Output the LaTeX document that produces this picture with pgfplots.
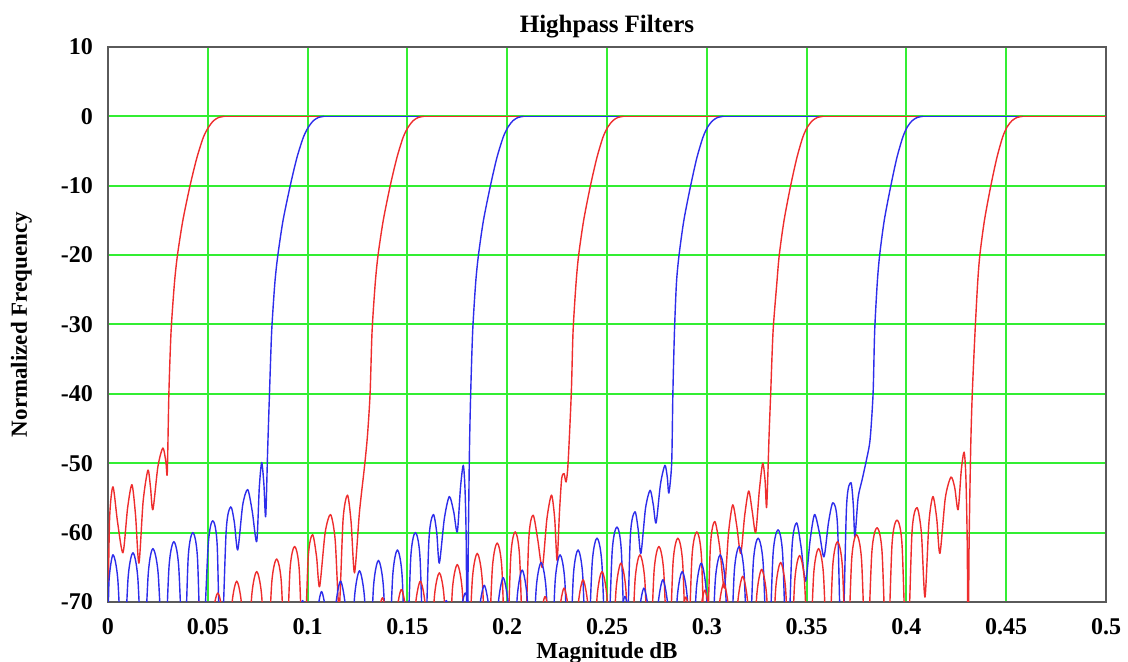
\documentclass[border=0pt]{standalone}
\usepackage{pgfplots}
\pgfplotsset{compat=1.18}
\usepackage{fontspec}
\setmainfont{Liberation Serif}
\definecolor{gridgreen}{RGB}{50,238,50}
\definecolor{framegray}{RGB}{90,90,90}
\definecolor{cred}{RGB}{238,45,45}
\definecolor{cblue}{RGB}{45,45,235}
\begin{document}
\begin{tikzpicture}
\begin{axis}[
 scale only axis, width=499pt, height=277.5pt,
 xmin=0, xmax=0.5, ymin=-70, ymax=10,
 xtick={0,0.05,0.1,0.15,0.2,0.25,0.3,0.35,0.4,0.45,0.5},
 xticklabels={0,0.05,0.1,0.15,0.2,0.25,0.3,0.35,0.4,0.45,0.5},
 ytick={-70,-60,-50,-40,-30,-20,-10,0,10},
 yticklabels={-70,-60,-50,-40,-30,-20,-10,0,10},
 grid=major, major grid style={draw=gridgreen, line width=1pt},
 major tick length=0pt,
 axis line style={draw=framegray, line width=1pt},
 ticklabel style={font=\bfseries\fontsize{12}{14}\selectfont},
 xticklabel style={yshift=-4.5pt},
 yticklabel style={xshift=-4pt},
 title={Highpass Filters},
 title style={font=\bfseries\fontsize{12.5}{14}\selectfont, at={(axis description cs:0.5,1)}, anchor=base, yshift=1pt},
 xlabel={Magnitude dB},
 xlabel style={font=\bfseries\fontsize{11.5}{13}\selectfont, at={(axis description cs:0.5,0)}, anchor=base, yshift=-28.5pt},
 ylabel={Normalized Frequency},
 ylabel style={font=\bfseries\fontsize{11.5}{13}\selectfont, at={([xshift=-40.5pt]axis description cs:0,0.5)}, anchor=base},
 every axis plot/.append style={line width=0.7pt, line join=round},
 sb/.style={smooth, tension=0.45},
]
% R0
\addplot[cred,sb] coordinates {(0,-72)(0.0008,-58)(0.0025,-53.4)(0.0048,-58.5)(0.0075,-62.9)(0.0098,-56.5)(0.012,-53.1)(0.0138,-57.5)(0.0155,-64.4)(0.0176,-55.5)(0.020,-51)(0.0213,-53.5)(0.0225,-56.7)(0.0250,-50.5)(0.0275,-47.8)(0.0290,-49.8)(0.0297,-51.4)(0.0305,-40)(0.0316,-31)(0.0333,-24)(0.0348,-20)(0.0375,-15)(0.0411,-10)(0.0445,-6)(0.0478,-3)(0.0505,-1.5)(0.053,-0.6)(0.0555,-0.15)(0.0582,0)};
\addplot[cred] coordinates {(0.0582,0)(0.5,0)};
% B0
\addplot[cblue,sb] coordinates {(0,-76)(0.0005,-67)(0.0025,-63.2)(0.0049,-66.7)(0.0075,-80)(0.0101,-66.4)(0.0125,-62.9)(0.0149,-66.4)(0.0175,-80)(0.0202,-65.8)(0.0225,-62.3)(0.0251,-65.8)(0.028,-80)(0.0306,-64.8)(0.033,-61.3)(0.0354,-64.8)(0.038,-80)(0.0402,-63.5)(0.0425,-60)(0.0448,-63.5)(0.047,-80)(0.0502,-61.8)(0.0525,-58.3)(0.0547,-61.8)(0.0565,-80)(0.0592,-59.8)(0.0615,-56.3)(0.0633,-58.5)(0.065,-62.5)(0.0675,-56)(0.070,-53.8)(0.0723,-57)(0.0745,-61.3)(0.0758,-53.5)(0.077,-49.9)(0.0781,-53)(0.079,-57.7)(0.0800,-48)(0.0809,-40)(0.0820,-31)(0.0836,-24)(0.0851,-20)(0.0877,-15)(0.0913,-10)(0.0946,-6)(0.0979,-3)(0.1005,-1.5)(0.103,-0.6)(0.1055,-0.15)(0.1082,0)};
\addplot[cblue] coordinates {(0.1082,0)(0.5,0)};
% R1
\addplot[cred,sb] coordinates {(0.041,-80)(0.0435,-72.5)(0.0455,-70)(0.0478,-72.5)(0.050,-80)(0.0527,-71.5)(0.055,-68.7)(0.0573,-71.5)(0.0597,-80)(0.0622,-70)(0.0645,-67)(0.0668,-70)(0.0695,-80)(0.0721,-68.8)(0.0745,-65.6)(0.0769,-68.8)(0.0795,-80)(0.0821,-67)(0.0845,-63.8)(0.0868,-67)(0.089,-80)(0.0912,-65.3)(0.0935,-62)(0.0958,-65.3)(0.098,-80)(0.1003,-63.6)(0.1025,-60.3)(0.1045,-63.5)(0.106,-67.8)(0.1088,-60)(0.1115,-57.4)(0.1138,-61)(0.1158,-71)(0.1178,-58)(0.120,-54.6)(0.1218,-58.5)(0.1235,-65.8)(0.126,-57)(0.1285,-50.5)(0.1300,-46)(0.1313,-40)(0.1323,-31)(0.1339,-24)(0.1353,-20)(0.1379,-15)(0.1414,-10)(0.1447,-6)(0.1479,-3)(0.1505,-1.5)(0.153,-0.6)(0.1555,-0.15)(0.1582,0)};
\addplot[cred] coordinates {(0.1582,0)(0.5,0)};
% B1
\addplot[cblue,sb] coordinates {(0.093,-80)(0.0952,-73)(0.0975,-69.8)(0.0998,-73)(0.102,-80)(0.1046,-72)(0.107,-68.5)(0.1094,-72)(0.1118,-80)(0.1141,-70.5)(0.1165,-67)(0.1189,-70.5)(0.1213,-80)(0.1236,-69)(0.126,-65.5)(0.1284,-69)(0.1308,-80)(0.1331,-67.5)(0.1355,-64)(0.1379,-67.5)(0.1403,-80)(0.1427,-66)(0.145,-62.5)(0.1473,-66)(0.1495,-80)(0.1517,-63.5)(0.154,-60)(0.1563,-63.5)(0.1585,-80)(0.1608,-61)(0.163,-57.4)(0.1647,-60)(0.166,-64.4)(0.1685,-58)(0.171,-54.8)(0.1732,-57)(0.175,-59.9)(0.1766,-53.5)(0.178,-50.3)(0.1789,-54)(0.1795,-62)(0.1799,-80)(0.1805,-62)(0.1811,-48)(0.1817,-40)(0.1827,-31)(0.1842,-24)(0.1856,-20)(0.1881,-15)(0.1916,-10)(0.1948,-6)(0.198,-3)(0.2005,-1.5)(0.203,-0.6)(0.2055,-0.15)(0.2082,0)};
\addplot[cblue] coordinates {(0.2082,0)(0.5,0)};
% R2
\addplot[cred,sb] coordinates {(0.133,-80)(0.1352,-72.5)(0.1375,-69.4)(0.1398,-72.5)(0.142,-80)(0.1446,-71.5)(0.147,-68.2)(0.1494,-71.5)(0.1518,-80)(0.1541,-70.3)(0.1565,-67)(0.1589,-70.3)(0.1612,-80)(0.1636,-69)(0.166,-65.8)(0.1683,-69)(0.1705,-80)(0.1726,-68)(0.175,-64.6)(0.1774,-68)(0.18,-80)(0.1826,-66.5)(0.185,-63)(0.1874,-66.5)(0.190,-80)(0.1926,-65)(0.195,-61.5)(0.1973,-65)(0.1995,-80)(0.2018,-63.4)(0.204,-59.9)(0.2062,-63.4)(0.2085,-80)(0.2108,-61)(0.213,-57.5)(0.2153,-61)(0.2176,-65)(0.2199,-58)(0.2222,-54.6)(0.2238,-58)(0.2250,-64)(0.2262,-57)(0.2273,-52.2)(0.2285,-51.5)(0.2295,-52.7)(0.2305,-50)(0.2321,-40)(0.233,-31)(0.2345,-24)(0.2358,-20)(0.2383,-15)(0.2417,-10)(0.2449,-6)(0.248,-3)(0.2505,-1.5)(0.253,-0.6)(0.2555,-0.15)(0.2582,0)};
\addplot[cred] coordinates {(0.2582,0)(0.5,0)};
% B2
\addplot[cblue,sb] coordinates {(0.165,-80)(0.1672,-73)(0.1695,-69.8)(0.1718,-73)(0.1742,-80)(0.1766,-72)(0.179,-68.7)(0.1814,-72)(0.1838,-80)(0.1861,-71)(0.1885,-67.6)(0.1909,-71)(0.1932,-80)(0.1956,-70)(0.198,-66.5)(0.2004,-70)(0.2028,-80)(0.2051,-69)(0.2075,-65.4)(0.2099,-69)(0.2122,-80)(0.2146,-67.8)(0.217,-64.3)(0.2194,-67.8)(0.2218,-80)(0.2241,-66.7)(0.2265,-63.2)(0.2288,-66.7)(0.231,-80)(0.2332,-66)(0.2355,-62.5)(0.2378,-66)(0.240,-80)(0.2426,-64.3)(0.245,-60.8)(0.2474,-64.3)(0.250,-80)(0.2526,-62.7)(0.255,-59.2)(0.2572,-62.7)(0.2595,-80)(0.2617,-60.5)(0.264,-57)(0.2656,-59.5)(0.267,-63)(0.2693,-56.5)(0.2716,-53.9)(0.2732,-56)(0.2746,-58.6)(0.2768,-53)(0.279,-50.3)(0.2802,-52)(0.281,-54.3)(0.2824,-50)(0.2830,-40)(0.2838,-31)(0.2848,-24)(0.2861,-20)(0.2885,-15)(0.2919,-10)(0.295,-6)(0.2981,-3)(0.3005,-1.5)(0.303,-0.6)(0.3055,-0.15)(0.3082,0)};
\addplot[cblue] coordinates {(0.3082,0)(0.5,0)};
% R3
\addplot[cred,sb] coordinates {(0.2145,-80)(0.2167,-72.5)(0.219,-69.2)(0.2213,-72.5)(0.2237,-80)(0.2261,-71.5)(0.2285,-68)(0.2309,-71.5)(0.2333,-80)(0.2356,-70.3)(0.238,-66.8)(0.2404,-70.3)(0.2428,-80)(0.2451,-69)(0.2475,-65.6)(0.2499,-69)(0.2522,-80)(0.2546,-68)(0.257,-64.4)(0.2594,-68)(0.2618,-80)(0.2641,-66.7)(0.2665,-63.2)(0.2689,-66.7)(0.2712,-80)(0.2736,-65.5)(0.276,-62)(0.2784,-65.5)(0.2808,-80)(0.2831,-64.3)(0.2855,-60.8)(0.2879,-64.3)(0.2902,-80)(0.2926,-63.4)(0.295,-59.9)(0.2973,-63.4)(0.2995,-80)(0.3018,-62)(0.304,-58.4)(0.3064,-62)(0.3088,-68)(0.3109,-60)(0.313,-56)(0.315,-59)(0.317,-63)(0.319,-57.5)(0.321,-54)(0.3228,-57)(0.3245,-60)(0.3263,-54)(0.328,-50)(0.3292,-52.5)(0.330,-56.3)(0.3312,-46)(0.3320,-40)(0.3332,-31)(0.3351,-24)(0.3363,-20)(0.3387,-15)(0.342,-10)(0.3451,-6)(0.3481,-3)(0.3505,-1.5)(0.353,-0.6)(0.3555,-0.15)(0.3582,0)};
\addplot[cred] coordinates {(0.3582,0)(0.5,0)};
% B3
\addplot[cblue,sb] coordinates {(0.2545,-80)(0.2567,-72.5)(0.259,-69.2)(0.2613,-72.5)(0.2637,-80)(0.2661,-71.5)(0.2685,-68)(0.2709,-71.5)(0.2732,-80)(0.2756,-70.3)(0.278,-66.8)(0.2804,-70.3)(0.2828,-80)(0.2853,-69)(0.2877,-65.6)(0.2901,-69)(0.2925,-80)(0.2948,-68)(0.2972,-64.4)(0.2996,-68)(0.302,-80)(0.3043,-66.7)(0.3067,-63.2)(0.3091,-66.7)(0.3115,-80)(0.3138,-65.5)(0.3162,-62)(0.3186,-65.5)(0.321,-80)(0.3233,-64.3)(0.3257,-60.8)(0.3282,-64.3)(0.3307,-80)(0.3332,-63.1)(0.3357,-59.6)(0.338,-63.1)(0.3403,-80)(0.3427,-62.1)(0.345,-58.6)(0.3472,-62)(0.3495,-67)(0.3518,-61)(0.354,-57.4)(0.3564,-60)(0.3587,-63.5)(0.361,-58.5)(0.3632,-55.7)(0.3655,-59)(0.3677,-80)(0.370,-56.3)(0.3722,-52.8)(0.3734,-56)(0.3742,-60.6)(0.3758,-55)(0.3778,-52.4)(0.380,-49.5)(0.3818,-46.6)(0.3833,-40)(0.3841,-31)(0.3854,-24)(0.3866,-20)(0.3889,-15)(0.3922,-10)(0.3952,-6)(0.3982,-3)(0.4005,-1.5)(0.403,-0.6)(0.4055,-0.15)(0.4082,0)};
\addplot[cblue] coordinates {(0.4082,0)(0.5,0)};
% R4
\addplot[cred,sb] coordinates {(0.285,-80)(0.2872,-72.8)(0.2895,-69.3)(0.2918,-72.8)(0.2942,-80)(0.2966,-71.8)(0.299,-68.3)(0.3014,-71.8)(0.3038,-80)(0.3061,-70.8)(0.3085,-67.3)(0.3109,-70.8)(0.3132,-80)(0.3156,-69.8)(0.318,-66.3)(0.3204,-69.8)(0.3228,-80)(0.3251,-68.8)(0.3275,-65.3)(0.3299,-68.8)(0.3322,-80)(0.3346,-67.8)(0.337,-64.3)(0.3394,-67.8)(0.3418,-80)(0.3441,-66.8)(0.3465,-63.3)(0.3489,-66.8)(0.3512,-80)(0.3536,-65.8)(0.356,-62.3)(0.3584,-65.8)(0.3608,-80)(0.3631,-64.8)(0.3655,-61.3)(0.3679,-64.8)(0.3702,-80)(0.3726,-63.8)(0.375,-60.3)(0.3775,-63.8)(0.380,-80)(0.3827,-62.8)(0.3853,-59.3)(0.3878,-62.8)(0.3903,-80)(0.3928,-61.7)(0.3953,-58.2)(0.3978,-61.7)(0.4003,-80)(0.4028,-60)(0.4053,-56.4)(0.4075,-60)(0.4093,-69.3)(0.4113,-58.5)(0.4133,-54.8)(0.4152,-58)(0.4168,-63)(0.4195,-55)(0.4223,-52)(0.4242,-53.5)(0.4259,-56.7)(0.4275,-51)(0.4289,-48.4)(0.4298,-52)(0.4305,-62)(0.4309,-80)(0.4314,-62)(0.4322,-48)(0.4330,-40)(0.4344,-31)(0.4357,-24)(0.4368,-20)(0.4391,-15)(0.4423,-10)(0.4453,-6)(0.4482,-3)(0.4505,-1.5)(0.453,-0.6)(0.4555,-0.15)(0.4582,0)};
\addplot[cred] coordinates {(0.4582,0)(0.5,0)};
\end{axis}
\pgfresetboundingbox
\path[use as bounding box] ([shift={(-54pt,-30pt)}]current axis.south west) rectangle ([shift={(11pt,23.5pt)}]current axis.north east);
\end{tikzpicture}
\end{document}
